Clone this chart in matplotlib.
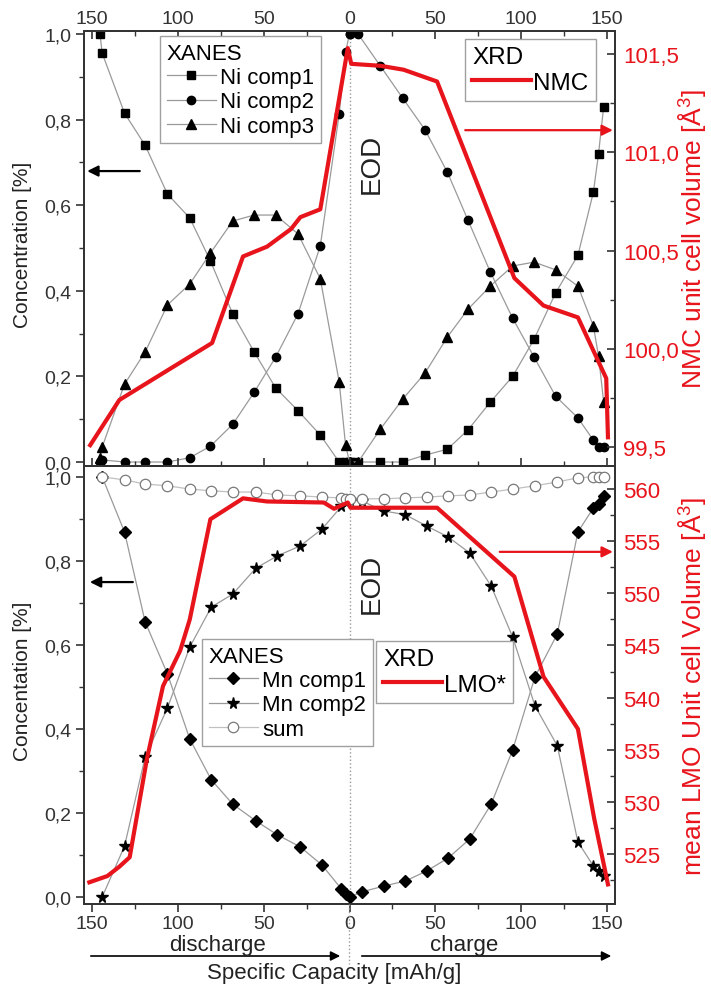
import numpy as np
import matplotlib.pyplot as plt
from matplotlib.ticker import MultipleLocator, FuncFormatter
from matplotlib.lines import Line2D
from matplotlib.patches import FancyArrowPatch

plt.rcParams['font.family'] = ['Liberation Sans', 'DejaVu Sans']
plt.rcParams['mathtext.default'] = 'regular'

# ---- Ni K-edge XANES components (top panel) ----
# capacities in mAh/g; discharge points are drawn left of EOD, charge points right of it
ni_dis_cap = [145.3, 144, 131, 119, 106, 93, 81, 68, 55.5, 43, 30, 17, 6, 2.3, 0]
ni1_dis = [1.0, 0.955, 0.815, 0.74, 0.626, 0.57, 0.47, 0.346, 0.257, 0.173, 0.12, 0.063, 0.0, 0.0, 0.0]
ni2_dis = [0.0, 0.005, 0.0, 0.0, 0.0, 0.01, 0.037, 0.088, 0.163, 0.245, 0.346, 0.505, 0.813, 0.958, 1.0]
ni3_dis = [0.01, 0.035, 0.182, 0.257, 0.367, 0.416, 0.488, 0.563, 0.577, 0.577, 0.533, 0.428, 0.187, 0.04, 0.0]

ni_chg_cap = [0.5, 5, 18, 31, 44, 57, 69, 82, 95, 107.5, 120, 133, 142, 145, 148]
ni1_chg = [0.0, 0.0, 0.0, 0.0, 0.016, 0.03, 0.075, 0.14, 0.2, 0.287, 0.395, 0.483, 0.63, 0.72, 0.83]
ni2_chg = [1.0, 1.0, 0.925, 0.85, 0.776, 0.677, 0.565, 0.444, 0.336, 0.245, 0.154, 0.103, 0.051, 0.035, 0.035]
ni3_chg = [0.0, 0.0, 0.077, 0.147, 0.208, 0.292, 0.357, 0.411, 0.458, 0.467, 0.449, 0.411, 0.318, 0.248, 0.14]

# ---- NMC unit cell volume from XRD (A^3) ----
nmc_dis_cap = [151, 134, 80, 62, 48, 34, 28.6, 17, 1]
nmc_dis_vol = [99.51, 99.74, 100.03, 100.47, 100.52, 100.61, 100.67, 100.71, 101.53]
nmc_chg_cap = [1, 18, 31.5, 51, 96, 113, 133, 149.5, 150.5]
nmc_chg_vol = [101.45, 101.44, 101.42, 101.36, 100.36, 100.22, 100.16, 99.85, 99.55]

# ---- Mn K-edge XANES components (bottom panel) ----
mn_dis_cap = [144, 131, 119, 106, 93, 80.5, 68, 54.5, 42, 28.6, 16, 4.7, 2.3, 0]
mn1_dis = [1.0, 0.869, 0.655, 0.531, 0.376, 0.279, 0.221, 0.181, 0.148, 0.119, 0.076, 0.019, 0.007, 0.0]
mn2_dis = [0.0, 0.121, 0.333, 0.45, 0.595, 0.69, 0.721, 0.783, 0.812, 0.836, 0.876, 0.93, 0.94, 0.945]
sum_dis = [1.0, 0.993, 0.983, 0.979, 0.971, 0.967, 0.964, 0.964, 0.957, 0.955, 0.952, 0.95, 0.948, 0.947]

mn_chg_cap = [7, 20, 32.5, 45, 57.5, 70, 82.5, 95, 108, 121, 133, 142, 145, 148]
mn1_chg = [0.012, 0.026, 0.038, 0.062, 0.093, 0.138, 0.221, 0.35, 0.524, 0.626, 0.869, 0.926, 0.936, 0.955]
mn2_chg = [0.943, 0.919, 0.91, 0.883, 0.857, 0.819, 0.74, 0.619, 0.455, 0.36, 0.131, 0.074, 0.062, 0.05]
sum_chg = [0.948, 0.948, 0.95, 0.952, 0.955, 0.957, 0.964, 0.971, 0.979, 0.988, 0.998, 1.0, 1.0, 1.0]

# ---- mean LMO unit cell volume from XRD (A^3) ----
lmo_dis_cap = [151.5, 141, 134, 128, 118, 108.6, 98.6, 93, 81, 62, 48, 15, 9, 1]
lmo_dis_vol = [522.3, 522.9, 523.8, 524.7, 534.1, 541.1, 544.5, 547.5, 557.1, 559.1, 558.8, 558.7, 558.1, 558.7]
lmo_chg_cap = [0.6, 51, 96, 113, 133, 142.5, 150.5]
lmo_chg_vol = [558.2, 558.2, 551.6, 542.0, 537.0, 528.4, 522.1]

x_ticks = [-150, -100, -50, 0, 50, 100, 150]

RED = '#e8141c'
GREY = '#9a9a9a'
SPINE = '#333333'


def pos(dis, chg):
    # discharge runs from the left edge towards EOD, charge from EOD to the right
    return np.concatenate([-np.asarray(dis, float), np.asarray(chg, float)])


def join(a, b):
    return np.concatenate([a, b])


comma1 = FuncFormatter(lambda v, p: f'{v:.1f}'.replace('.', ','))
cap_fmt = FuncFormatter(lambda v, p: f'{abs(v):.0f}')

fig = plt.figure(figsize=(7.11, 9.87), dpi=100)
W, H = 711, 987
left, right = 84 / W, 615 / W
ax1 = fig.add_axes([left, 1 - 467 / H, right - left, (467 - 32) / H])
ax2 = fig.add_axes([left, 1 - 905 / H, right - left, (905 - 467) / H])
ax1r = ax1.twinx()
ax2r = ax2.twinx()

line_kw = dict(color=GREY, lw=0.9, mfc='black', mec='black')

# top panel: Ni components
xn = pos(ni_dis_cap, ni_chg_cap)
h1, = ax1.plot(xn, join(ni1_dis, ni1_chg), marker='s', ms=5.5, label='Ni comp1', **line_kw)
h2, = ax1.plot(xn, join(ni2_dis, ni2_chg), marker='o', ms=6, label='Ni comp2', **line_kw)
h3, = ax1.plot(xn, join(ni3_dis, ni3_chg), marker='^', ms=6.5, label='Ni comp3', **line_kw)
hn, = ax1r.plot(pos(nmc_dis_cap, nmc_chg_cap), join(nmc_dis_vol, nmc_chg_vol),
                color=RED, lw=3, label='NMC', solid_joinstyle='round')

# bottom panel: Mn components
xm = pos(mn_dis_cap, mn_chg_cap)
h4, = ax2.plot(xm, join(mn1_dis, mn1_chg), marker='D', ms=6, label='Mn comp1', **line_kw)
h5, = ax2.plot(xm, join(mn2_dis, mn2_chg), marker='*', ms=8.5, label='Mn comp2', **line_kw)
h6, = ax2.plot(xm, join(sum_dis, sum_chg), marker='o', ms=7.5, color='#c0c0c0', lw=0.9,
               mfc='white', mec='#7a7a7a', mew=0.9, label='sum')
hl, = ax2r.plot(pos(lmo_dis_cap, lmo_chg_cap), join(lmo_dis_vol, lmo_chg_vol),
                color=RED, lw=3, label='LMO*', solid_joinstyle='round')

for ax in (ax1, ax2):
    ax.set_xlim(-154.6, 154.6)
    ax.axvline(0, color='#999999', ls=':', lw=1, zorder=0)
    ax.set_xticks(x_ticks)
    ax.xaxis.set_minor_locator(MultipleLocator(25))
    ax.xaxis.set_major_formatter(cap_fmt)
    ax.yaxis.set_major_locator(MultipleLocator(0.2))
    ax.yaxis.set_minor_locator(MultipleLocator(0.1))
    ax.yaxis.set_major_formatter(comma1)
    ax.tick_params(axis='y', which='major', direction='out', length=6, width=1.2,
                   labelsize=14, colors=SPINE, pad=3)
    ax.tick_params(axis='y', which='minor', direction='out', length=3.5, width=1.0, colors=SPINE)
    for s in ax.spines.values():
        s.set_color(SPINE)
        s.set_linewidth(1.3)

ax1.set_ylim(-0.0093, 1.007)
ax2.set_ylim(-0.0167, 1.026)

ax1.tick_params(axis='x', which='both', top=True, bottom=False, labeltop=True,
                labelbottom=False, direction='in', colors=SPINE)
ax1.tick_params(axis='x', which='major', length=6, width=1.2, labelsize=14, pad=3)
ax1.tick_params(axis='x', which='minor', length=3.5, width=1.0)
ax2.tick_params(axis='x', which='both', top=True, bottom=True, labeltop=False,
                labelbottom=True, direction='out', colors=SPINE)
ax2.tick_params(axis='x', which='major', length=6, width=1.2, labelsize=14, pad=2)
ax2.tick_params(axis='x', which='minor', length=3.5, width=1.0)

ax1.set_ylabel('Concentration [%]', fontsize=15, color='#222222')
ax2.set_ylabel('Concentation [%]', fontsize=15, color='#222222')
ax1.yaxis.set_label_coords(-0.098, 0.51)
ax2.yaxis.set_label_coords(-0.098, 0.51)

# right axes: unit cell volumes
ax1r.set_ylim(99.404, 101.617)
ax1r.yaxis.set_major_locator(MultipleLocator(0.5))
ax1r.yaxis.set_minor_locator(MultipleLocator(0.25))
ax1r.yaxis.set_major_formatter(comma1)
ax2r.set_ylim(520.22, 562.2)
ax2r.yaxis.set_major_locator(MultipleLocator(5))
ax2r.yaxis.set_minor_locator(MultipleLocator(2.5))
for ax in (ax1r, ax2r):
    ax.tick_params(axis='y', which='major', direction='in', length=6, width=1.2,
                   color=SPINE, labelcolor=RED, labelsize=16, pad=6)
    ax.tick_params(axis='y', which='minor', direction='in', length=3.5, width=1.0, color=SPINE)
    for s in ax.spines.values():
        s.set_color(SPINE)
        s.set_linewidth(1.3)
ax1r.set_ylabel('NMC unit cell volume [Å$^3$]', fontsize=19, color=RED)
ax2r.set_ylabel('mean LMO Unit cell Volume [Å$^3$]', fontsize=19, color=RED)
ax1r.yaxis.set_label_coords(1.115, 0.525)
ax2r.yaxis.set_label_coords(1.115, 0.5)

# EOD markers
ax1.text(0.542, 0.697, 'EOD', transform=ax1.transAxes, rotation=90, fontsize=20,
         ha='center', va='center', color='#222222')
ax2.text(0.542, 0.733, 'EOD', transform=ax2.transAxes, rotation=90, fontsize=20,
         ha='center', va='center', color='#222222')


# arrows pointing to the axis each curve belongs to
def axis_arrow(ax, x0, x1, y, color):
    ax.annotate('', xy=(x1, y), xytext=(x0, y), xycoords='axes fraction',
                arrowprops=dict(arrowstyle='-|>', color=color, lw=1.6,
                                mutation_scale=16, shrinkA=0, shrinkB=0))


axis_arrow(ax1r, 0.105, 0.006, 0.678, 'black')
axis_arrow(ax1r, 0.718, 0.996, 0.772, RED)
axis_arrow(ax2r, 0.092, 0.011, 0.735, 'black')
axis_arrow(ax2r, 0.783, 0.996, 0.804, RED)

# legends
leg_kw = dict(loc='upper left', bbox_transform=fig.transFigure, borderaxespad=0,
              fancybox=False, framealpha=1, edgecolor='#a0a0a0', alignment='left',
              borderpad=0.3, labelspacing=0.15, handletextpad=0.2)
xanes_kw = dict(leg_kw, fontsize=16, title_fontsize=16, handlelength=2.2)
xrd_kw = dict(leg_kw, fontsize=17.5, title_fontsize=17.5, handlelength=2.4, handletextpad=0.1)

ax1r.legend([h1, h2, h3], ['Ni comp1', 'Ni comp2', 'Ni comp3'], title='XANES',
            bbox_to_anchor=(160 / W, 1 - 37 / H), **xanes_kw)
ax1r.add_artist(ax1r.get_legend())
ax1r.legend([hn], ['NMC'], title='XRD', bbox_to_anchor=(465 / W, 1 - 40 / H), **xrd_kw)

ax2r.legend([h4, h5, h6], ['Mn comp1', 'Mn comp2', 'sum'], title='XANES',
            bbox_to_anchor=(202 / W, 1 - 640 / H), **xanes_kw)
ax2r.add_artist(ax2r.get_legend())
ax2r.legend([hl], ['LMO*'], title='XRD', bbox_to_anchor=(376 / W, 1 - 642 / H), **xrd_kw)

# discharge / charge direction below the capacity axis
fig.add_artist(Line2D([349 / W, 349 / W], [1 - 905 / H, 1 - 965 / H], color='#999999',
                      ls=':', lw=1))
fig.text(217 / W, 1 - 945 / H, 'discharge', fontsize=16, ha='center', va='center', color='#222222')
fig.text(464 / W, 1 - 945 / H, 'charge', fontsize=16, ha='center', va='center', color='#222222')
for x0, x1 in ((88, 343), (359, 614)):
    fig.add_artist(FancyArrowPatch(
        (x0 / W, 1 - 957 / H), (x1 / W, 1 - 957 / H), transform=fig.transFigure,
        arrowstyle='-|>', color='black', lw=1.2, mutation_scale=14))
fig.text(334 / W, 1 - 974 / H, 'Specific Capacity [mAh/g]', fontsize=16, ha='center',
         va='center', color='#222222')

fig.savefig('out.png', dpi=100)
